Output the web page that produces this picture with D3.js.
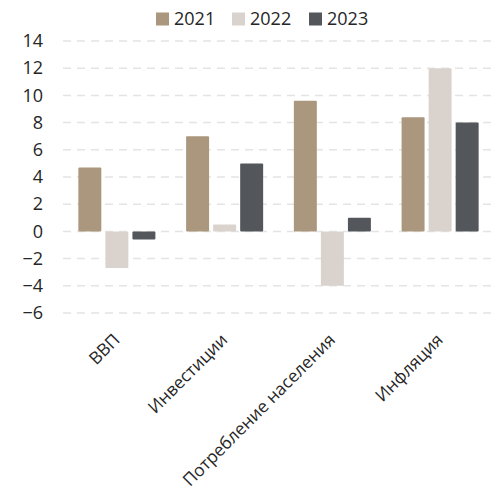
<!DOCTYPE html>
<html>
<head>
<meta charset="utf-8">
<script src="https://cdn.jsdelivr.net/npm/d3@7"></script>
<style>
  html, body { margin: 0; padding: 0; background: #fff; }
  svg { display: block; }
  text { font-family: "Open Sans", sans-serif; fill: #262626; }
</style>
</head>
<body>
<svg id="chart" width="494" height="496"></svg>
<script>
// Indicators (categories) and yearly values, %
const categories = ["ВВП", "Инвестиции", "Потребление населения", "Инфляция"];
const years = ["2021", "2022", "2023"];
const values2021 = [4.7, 7.0, 9.6, 8.4];
const values2022 = [-2.7, 0.5, -4.0, 12.0];
const values2023 = [-0.6, 5.0, 1.0, 8.0];
const yTicks = [-6, -4, -2, 0, 2, 4, 6, 8, 10, 12, 14];
const colors = ["#AB977D", "#DAD3CD", "#53565A"];

const series = [values2021, values2022, values2023];
const rows = categories.map((c, i) => ({
  category: c,
  values: years.map((y, j) => ({ year: y, value: series[j][i], color: colors[j] }))
}));

const svg = d3.select("#chart");
const margin = { top: 41, right: 0, bottom: 183, left: 63 };
const width = 494 - margin.left - margin.right;
const height = 496 - margin.top - margin.bottom;

const g = svg.append("g").attr("transform", `translate(${margin.left},${margin.top})`);

const x = d3.scaleBand().domain(categories).range([0, width]).paddingInner(0.285).paddingOuter(0.1425);
const xInner = d3.scaleBand().domain(years).range([0, x.bandwidth()]).paddingInner(0.15);
const y = d3.scaleLinear().domain([-6, 14]).range([height, 0]);

// Dashed horizontal gridlines
g.append("g")
  .selectAll("line")
  .data(yTicks)
  .join("line")
  .attr("x1", 0)
  .attr("x2", width)
  .attr("y1", d => y(d))
  .attr("y2", d => y(d))
  .attr("stroke", "#E4E4E4")
  .attr("stroke-width", 1.5)
  .attr("stroke-dasharray", "8,6");

// Y axis labels
const yAxis = d3.axisLeft(y).tickValues(yTicks).tickSize(0).tickPadding(20);
g.append("g")
  .call(yAxis)
  .call(a => a.select(".domain").remove())
  .selectAll("text")
  .style("font-family", "'Open Sans', sans-serif")
  .style("font-size", "18px")
  .attr("fill", "#262626");

// Bars
const groups = g.append("g")
  .selectAll("g")
  .data(rows)
  .join("g")
  .attr("transform", d => `translate(${x(d.category)},0)`);

groups.selectAll("rect")
  .data(d => d.values)
  .join("rect")
  .attr("x", d => xInner(d.year))
  .attr("width", xInner.bandwidth())
  .attr("y", d => Math.min(y(d.value), y(0)))
  .attr("height", d => Math.abs(y(d.value) - y(0)))
  .attr("rx", 1)
  .attr("fill", d => d.color);

// Category labels, rotated 45°
const xAxis = d3.axisBottom(x).tickSize(0).tickPadding(0);
g.append("g")
  .attr("transform", `translate(0,${height})`)
  .call(xAxis)
  .call(a => a.select(".domain").remove())
  .selectAll("text")
  .style("font-family", "'Open Sans', sans-serif")
  .style("font-size", "17.3px")
  .attr("fill", "#262626")
  .attr("text-anchor", "end")
  .attr("dy", null)
  .attr("y", 0)
  .attr("transform", "translate(4,28) rotate(-45)");

// Legend
const legend = svg.append("g").attr("transform", "translate(0,19)");
const legendX = [156, 232, 309];
years.forEach((yr, i) => {
  legend.append("rect")
    .attr("x", legendX[i])
    .attr("y", -6.5)
    .attr("width", 13)
    .attr("height", 13)
    .attr("fill", colors[i]);
  legend.append("text")
    .attr("x", legendX[i] + 18)
    .attr("y", 0)
    .attr("dy", "0.35em")
    .style("font-size", "18px")
    .text(yr);
});
</script>
</body>
</html>
